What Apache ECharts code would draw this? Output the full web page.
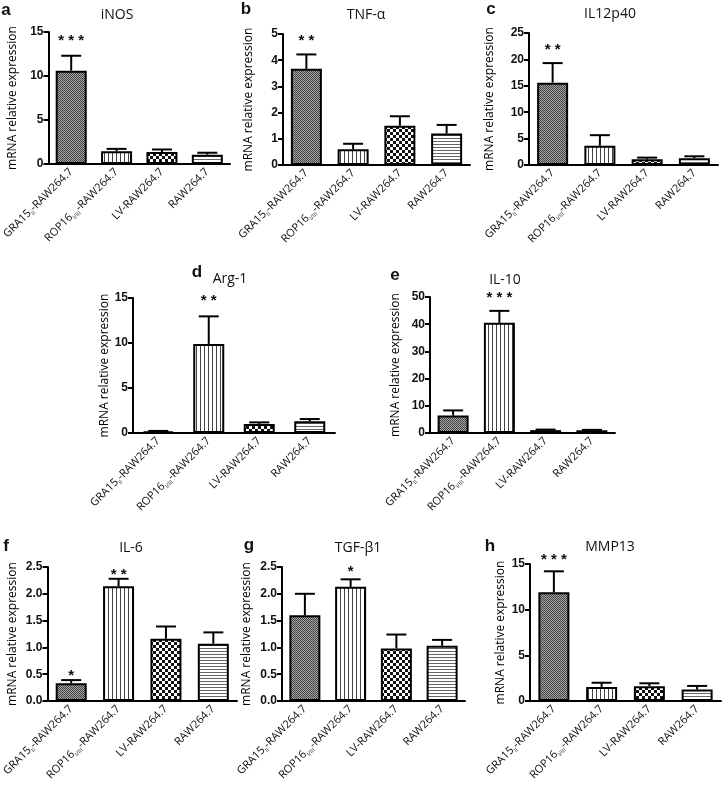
<!DOCTYPE html>
<html><head><meta charset="utf-8">
<script src="https://cdn.jsdelivr.net/npm/echarts@6/dist/echarts.min.js"></script>
<style>html,body{margin:0;padding:0;background:#fff}#c{width:725px;height:787px}</style>
</head><body><div id="c"></div>
<script>
// ---- data ----
const categories = ['GRA15II-RAW264.7', 'ROP16I/III-RAW264.7', 'LV-RAW264.7', 'RAW264.7'];
const labelMain = ['GRA15', 'ROP16', 'LV-RAW264.7', 'RAW264.7'];
const labelSub = ['II', 'I/III', '', ''];
const labelTail = ['-RAW264.7', '-RAW264.7', '', ''];

const iNOS = [10.6, 1.45, 1.35, 1.05];
const iNOSErr = [1.7, 0.27, 0.3, 0.23];
const iNOSStars = ['***', '', '', ''];

const TNFa = [3.67, 0.6, 1.5, 1.2];
const TNFaErr = [0.55, 0.21, 0.36, 0.33];
const TNFaStars = ['**', '', '', ''];

const IL12p40 = [15.6, 3.65, 1.08, 1.27];
const IL12p40Err = [3.7, 2.0, 0.32, 0.38];
const IL12p40Stars = ['**', '', '', ''];

const Arg1 = [0.18, 9.9, 1.0, 1.3];
const Arg1Err = [0.05, 3.06, 0.18, 0.25];
const Arg1Stars = ['', '**', '', ''];

const IL10 = [6.4, 40.5, 1.05, 1.0];
const IL10Err = [1.9, 4.4, 0.2, 0.15];
const IL10Stars = ['', '***', '', ''];

const IL6 = [0.33, 2.14, 1.16, 1.07];
const IL6Err = [0.06, 0.14, 0.23, 0.21];
const IL6Stars = ['*', '**', '', ''];

const TGFb1 = [1.6, 2.13, 0.98, 1.03];
const TGFb1Err = [0.4, 0.14, 0.26, 0.11];
const TGFb1Stars = ['', '*', '', ''];

const MMP13 = [11.9, 1.54, 1.62, 1.25];
const MMP13Err = [2.3, 0.46, 0.32, 0.4];
const MMP13Stars = ['***', '', '', ''];

const yMax = [15, 5, 25, 15, 50, 2.5, 2.5, 15];
const yStep = [5, 1, 5, 5, 10, 0.5, 0.5, 5];
const titles = ['iNOS', 'TNF-α', 'IL12p40', 'Arg-1', 'IL-10', 'IL-6', 'TGF-β1', 'MMP13'];
const letters = ['a', 'b', 'c', 'd', 'e', 'f', 'g', 'h'];
const yTitle = 'mRNA relative expression';

const values = [iNOS, TNFa, IL12p40, Arg1, IL10, IL6, TGFb1, MMP13];
const errors = [iNOSErr, TNFaErr, IL12p40Err, Arg1Err, IL10Err, IL6Err, TGFb1Err, MMP13Err];
const stars = [iNOSStars, TNFaStars, IL12p40Stars, Arg1Stars, IL10Stars, IL6Stars, TGFb1Stars, MMP13Stars];

// ---- layout / style ----
const grids = [
  [43, 32, 187, 132], [283, 34, 187, 131], [529, 33, 189, 132],
  [133, 298, 202, 135], [430, 297, 185, 136],
  [42, 567, 195, 134], [282, 567, 183, 134], [530, 564, 191, 137]
];
const nameGaps = [30, 28, 33, 21, 28, 29, 29, 23];
const starLift = [15, 14, 13, 16, 13, 4, 7, 11];
const titlePos = [[117, 15], [366, 15], [610, 14], [230, 279], [505, 280], [131, 548], [358, 548], [610, 547]];
const letterPos = [[6, 10], [246, 9], [491, 9], [197, 272], [395, 275], [6, 546], [249, 545], [490, 546]];

function makePattern(w, h, draw) {
  const c = document.createElement('canvas'); c.width = w; c.height = h;
  const ctx = c.getContext('2d'); draw(ctx); return c;
}
const patterns = [
  makePattern(2, 2, ctx => { ctx.fillStyle = '#a4a4a4'; ctx.fillRect(0, 0, 2, 2); ctx.fillStyle = '#444'; ctx.fillRect(0, 0, 1, 1); ctx.fillRect(1, 1, 1, 1); }),
  makePattern(4, 1, ctx => { ctx.fillStyle = '#fff'; ctx.fillRect(0, 0, 4, 1); ctx.fillStyle = '#444'; ctx.fillRect(0, 0, 1, 1); }),
  makePattern(6, 6, ctx => { ctx.fillStyle = '#fff'; ctx.fillRect(0, 0, 6, 6); ctx.fillStyle = '#111'; ctx.fillRect(0, 0, 3, 3); ctx.fillRect(3, 3, 3, 3); }),
  makePattern(1, 3, ctx => { ctx.fillStyle = '#fff'; ctx.fillRect(0, 0, 1, 3); ctx.fillStyle = '#666'; ctx.fillRect(0, 0, 1, 1); })
].map(c => ({ image: c, repeat: 'repeat' }));

const FONT = "'Open Sans', 'Noto Sans', sans-serif";
const NUMFONT = "Arial, 'Liberation Sans', sans-serif";

const option = {
  backgroundColor: '#fff',
  animation: false,
  grid: [], xAxis: [], yAxis: [], series: [], graphic: []
};

for (let p = 0; p < 8; p++) {
  const g = grids[p];
  option.grid.push({ left: g[0], top: g[1], width: g[2], height: g[3], containLabel: false });
  option.xAxis.push({
    type: 'category', gridIndex: p, data: categories,
    axisLine: { lineStyle: { color: '#000', width: 2 } },
    axisTick: { alignWithLabel: true, length: 5, lineStyle: { color: '#000', width: 2 } },
    axisLabel: {
      interval: 0, rotate: 45, margin: 6,
      formatter: (v, i) => {
        let s = '{n|' + labelMain[i] + '}';
        if (labelSub[i]) s += '{s|' + labelSub[i] + '}';
        if (labelTail[i]) s += '{n|' + labelTail[i] + '}';
        return s;
      },
      rich: {
        n: { fontSize: 11, fontFamily: FONT, color: '#111', lineHeight: 14 },
        s: { fontSize: 6, fontFamily: FONT, color: '#111', verticalAlign: 'bottom' }
      }
    }
  });
  option.yAxis.push({
    type: 'value', gridIndex: p, min: 0, max: yMax[p], interval: yStep[p],
    name: yTitle, nameLocation: 'middle', nameGap: nameGaps[p],
    nameTextStyle: { fontSize: 12, fontFamily: FONT, color: '#000' },
    splitLine: { show: false },
    axisLine: { show: true, lineStyle: { color: '#000', width: 2 } },
    axisTick: { show: true, length: 5, lineStyle: { color: '#000', width: 2 } },
    axisLabel: {
      margin: 5, fontSize: 12, fontWeight: 'bold', fontFamily: NUMFONT, color: '#111',
      formatter: v => yStep[p] < 1 ? v.toFixed(1) : String(v)
    }
  });
  option.series.push({
    type: 'bar', xAxisIndex: p, yAxisIndex: p, barWidth: 31,
    itemStyle: { borderColor: '#000', borderWidth: 2 },
    data: values[p].map((v, i) => ({ value: v, itemStyle: { color: patterns[i] } })),
    z: 2
  });
  const st = stars[p], lift = starLift[p];
  option.series.push({
    type: 'custom', xAxisIndex: p, yAxisIndex: p, z: 3,
    data: values[p].map((v, i) => [i, v, errors[p][i]]),
    renderItem: (params, api) => {
      const i = api.value(0), v = api.value(1), e = api.value(2);
      const top = api.coord([i, v]);
      const cap = api.coord([i, v + e]);
      const children = [
        { type: 'line', shape: { x1: top[0], y1: top[1], x2: cap[0], y2: cap[1] }, style: { stroke: '#000', lineWidth: 2 } },
        { type: 'line', shape: { x1: cap[0] - 10, y1: cap[1], x2: cap[0] + 10, y2: cap[1] }, style: { stroke: '#000', lineWidth: 2 } }
      ];
      const s = st[params.dataIndex];
      if (s) {
        children.push({ type: 'text', x: cap[0], y: cap[1] - lift,
          style: { text: s.split('').join(' '), font: "bold 15px Arial, 'Liberation Sans', sans-serif", fill: '#111', textAlign: 'center', textVerticalAlign: 'middle' } });
      }
      return { type: 'group', children };
    }
  });
  option.graphic.push({ type: 'text', x: titlePos[p][0], y: titlePos[p][1],
    style: { text: titles[p], font: "14px " + FONT, fill: '#111', textAlign: 'center', textVerticalAlign: 'middle' } });
  option.graphic.push({ type: 'text', x: letterPos[p][0], y: letterPos[p][1],
    style: { text: letters[p], font: "bold 17px Arial, 'Liberation Sans', sans-serif", fill: '#111', textAlign: 'center', textVerticalAlign: 'middle' } });
}

const chart = echarts.init(document.getElementById('c'), null, { renderer: 'canvas' });
chart.setOption(option);
</script>
</body></html>
